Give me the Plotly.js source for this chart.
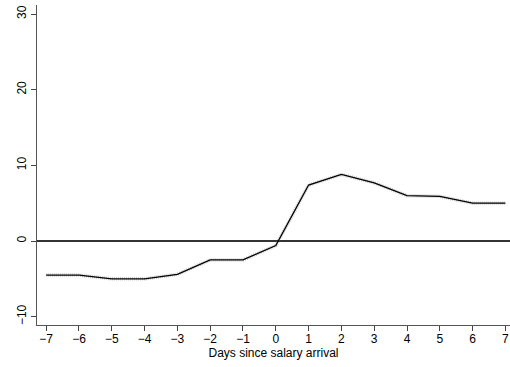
<!DOCTYPE html>
<html>
<head>
<meta charset="utf-8">
<script src="https://cdn.plot.ly/plotly-3.0.1.min.js"></script>
<style>
  html, body { margin: 0; padding: 0; background: #fff; }
  #chart { width: 510px; height: 367px; }
</style>
</head>
<body>
<div id="chart"></div>
<script>
// Days relative to salary arrival and the estimated effect on each day
const days = [-7, -6, -5, -4, -3, -2, -1, 0, 1, 2, 3, 4, 5, 6, 7];
const effect = [-4.5, -4.5, -5.0, -5.0, -4.4, -2.5, -2.5, -0.6, 7.4, 8.8, 7.7, 6.0, 5.9, 5.0, 5.0];
const xTicks = [-7, -6, -5, -4, -3, -2, -1, 0, 1, 2, 3, 4, 5, 6, 7];
const xTickText = ["\u22127", "\u22126", "\u22125", "\u22124", "\u22123", "\u22122", "\u22121", "0", "1", "2", "3", "4", "5", "6", "7"];
const yTicks = [-10, 0, 10, 20, 30];
const yTickText = ["\u221210", "0", "10", "20", "30"];

const font = { family: "Liberation Sans, Arial, sans-serif", size: 12, color: "#000" };

const traces = [
  {
    // soft tick texture along the estimate
    x: days, y: effect, type: "scatter", mode: "lines",
    line: { color: "rgba(130,130,130,0.45)", width: 3.5, dash: "1px,1px" },
    hoverinfo: "skip", showlegend: false
  },
  {
    x: days, y: effect, type: "scatter", mode: "lines",
    line: { color: "#000", width: 1.3 },
    showlegend: false
  }
];

const layout = {
  width: 510, height: 367,
  margin: { l: 37, r: 0, t: 5, b: 42 },
  paper_bgcolor: "#fff", plot_bgcolor: "#fff",
  font: font,
  showlegend: false,
  xaxis: {
    range: [-7.28, 7.14],
    tickvals: xTicks, ticktext: xTickText,
    ticks: "outside", ticklen: 5, tickwidth: 1, tickcolor: "#444",
    ticklabelstandoff: -3,
    showline: true, linecolor: "#555", linewidth: 1.3,
    showgrid: false, zeroline: false,
    tickfont: { family: font.family, size: 12, color: "#000" },
    title: { text: "Days since salary arrival", font: { family: font.family, size: 12, color: "#000" }, standoff: 0 }
  },
  yaxis: {
    range: [-11.1, 31.2],
    tickvals: yTicks, ticktext: yTickText, tickangle: -90,
    ticks: "outside", ticklen: 5, tickwidth: 1, tickcolor: "#444",
    showline: true, linecolor: "#555", linewidth: 1.3,
    showgrid: false,
    zeroline: true, zerolinecolor: "#333", zerolinewidth: 1.2,
    tickfont: { family: font.family, size: 12, color: "#000" }
  }
};

Plotly.newPlot("chart", traces, layout, { displayModeBar: false, staticPlot: true });
</script>
</body>
</html>
